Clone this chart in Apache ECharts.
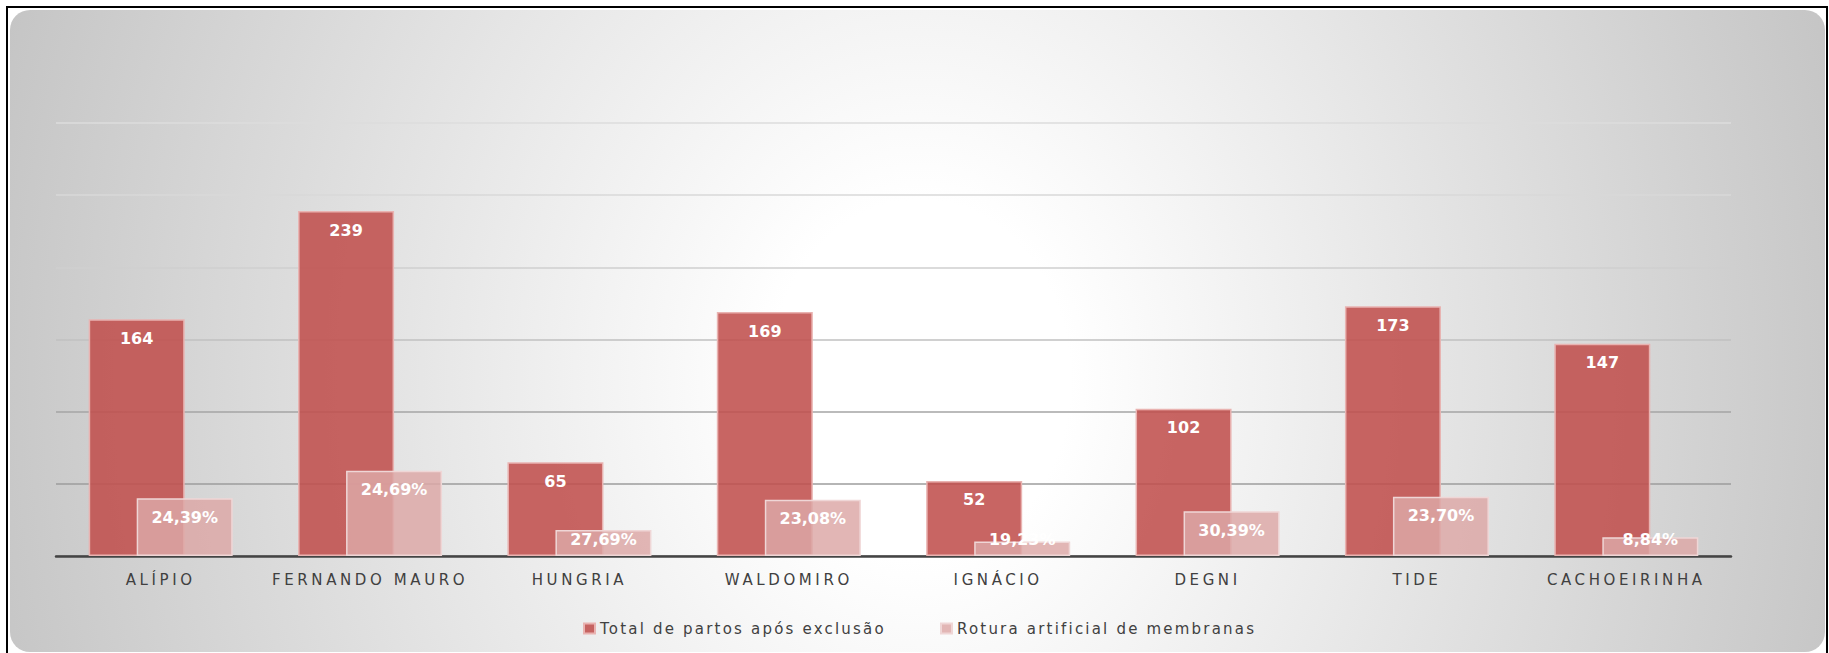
<!DOCTYPE html>
<html>
<head>
<meta charset="utf-8">
<script src="https://cdn.jsdelivr.net/npm/echarts@6/dist/echarts.min.js"></script>
<style>
  html, body {
    margin: 0;
    padding: 0;
    background: #fff;
    overflow: hidden;
  }
  .frame {
    position: absolute;
    left: 6px;
    top: 6px;
    width: 1818px;
    height: 660px;
    border: 2px solid #000;
  }
  .panel {
    position: absolute;
    left: 10px;
    top: 10px;
    width: 1815px;
    height: 642px;
    border-radius: 20px;
    background: radial-gradient(ellipse 1000px 1200px at 910px 370px, #ffffff 0%, #ffffff 15%, #c2c2c2 100%);
  }
  #chart {
    position: absolute;
    left: 0;
    top: 0;
    width: 1829px;
    height: 653px;
  }
  /* espaçamento das letras como no Excel */
  #chart text[fill="#404040"], #chart text[fill="rgb(64,64,64)"] {
    letter-spacing: 3.6px;
  }
  #chart text[fill="#414141"], #chart text[fill="rgb(65,65,65)"] {
    letter-spacing: 2.2px;
  }
</style>
</head>
<body>
<div class="frame"></div>
<div class="panel"></div>
<div id="chart"></div>
<script>
// categorias (maternidades)
const categories = ['ALÍPIO', 'FERNANDO MAURO', 'HUNGRIA', 'WALDOMIRO', 'IGNÁCIO', 'DEGNI', 'TIDE', 'CACHOEIRINHA'];
// total de partos após exclusão
const totalPartos = [164, 239, 65, 169, 52, 102, 173, 147];
// rotura artificial de membranas (n) e percentual
const rotura = [40, 59, 18, 39, 10, 31, 41, 13];
const roturaPct = [24.39, 24.69, 27.69, 23.08, 19.23, 30.39, 23.70, 8.84];
// eixo y
const yMin = 0;
const yMax = 300;
const yStep = 50;

const serieTotal = 'Total de partos após exclusão';
const serieRotura = 'Rotura artificial de membranas';

const chart = echarts.init(document.getElementById('chart'), null, { renderer: 'svg' });

const labelFont = {
  color: '#fff',
  fontFamily: 'DejaVu Sans',
  fontWeight: 'bold',
  fontSize: 16
};

const legendText = {
  color: '#414141',
  fontFamily: 'DejaVu Sans',
  fontSize: 15
};

// barras curtas: rótulo preso perto da base
const roturaData = rotura.map(v => ({
  value: v,
  label: v < 25
    ? { position: 'insideBottom', distance: 9 }
    : { position: 'insideTop', distance: 11 }
}));

const option = {
  backgroundColor: 'transparent',
  animation: false,
  grid: {
    left: 56,
    right: 98,
    top: 123,
    bottom: 97
  },
  // duas legendas separadas para fixar a posição de cada item
  legend: [
    {
      bottom: 17,
      left: 583,
      padding: 0,
      itemWidth: 11,
      itemHeight: 10,
      icon: 'rect',
      textStyle: legendText,
      data: [serieTotal]
    },
    {
      bottom: 17,
      left: 940,
      padding: 0,
      itemWidth: 11,
      itemHeight: 10,
      icon: 'rect',
      textStyle: legendText,
      data: [serieRotura]
    }
  ],
  xAxis: {
    type: 'category',
    data: categories,
    axisTick: { show: false },
    axisLine: {
      lineStyle: { color: '#444', width: 2.5 }
    },
    axisLabel: {
      color: '#404040',
      fontFamily: 'DejaVu Sans',
      fontSize: 15,
      margin: 16,
      interval: 0
    }
  },
  yAxis: {
    type: 'value',
    min: yMin,
    max: yMax,
    interval: yStep,
    axisLine: { show: false },
    axisTick: { show: false },
    axisLabel: { show: false },
    splitLine: {
      lineStyle: {
        width: 1.5,
        color: ['#999', '#9c9c9c', '#a4a4a4', '#c0c0c0', '#cfcfcf', '#d9d9d9', '#dddddd']
      }
    }
  },
  series: [
    {
      name: serieTotal,
      type: 'bar',
      data: totalPartos,
      barWidth: 96,
      barGap: '-50%',
      itemStyle: {
        color: 'rgba(192, 80, 77, 0.88)',
        borderColor: '#e9b3b1',
        borderWidth: 1.5
      },
      label: Object.assign({
        show: true,
        position: 'insideTop',
        distance: 11
      }, labelFont)
    },
    {
      name: serieRotura,
      type: 'bar',
      data: roturaData,
      barWidth: 96,
      itemStyle: {
        color: 'rgba(220, 168, 167, 0.84)',
        borderColor: '#efd6d6',
        borderWidth: 1.5
      },
      label: Object.assign({
        show: true,
        formatter: p => roturaPct[p.dataIndex].toFixed(2).replace('.', ',') + '%'
      }, labelFont)
    }
  ]
};

chart.setOption(option);
</script>
</body>
</html>
